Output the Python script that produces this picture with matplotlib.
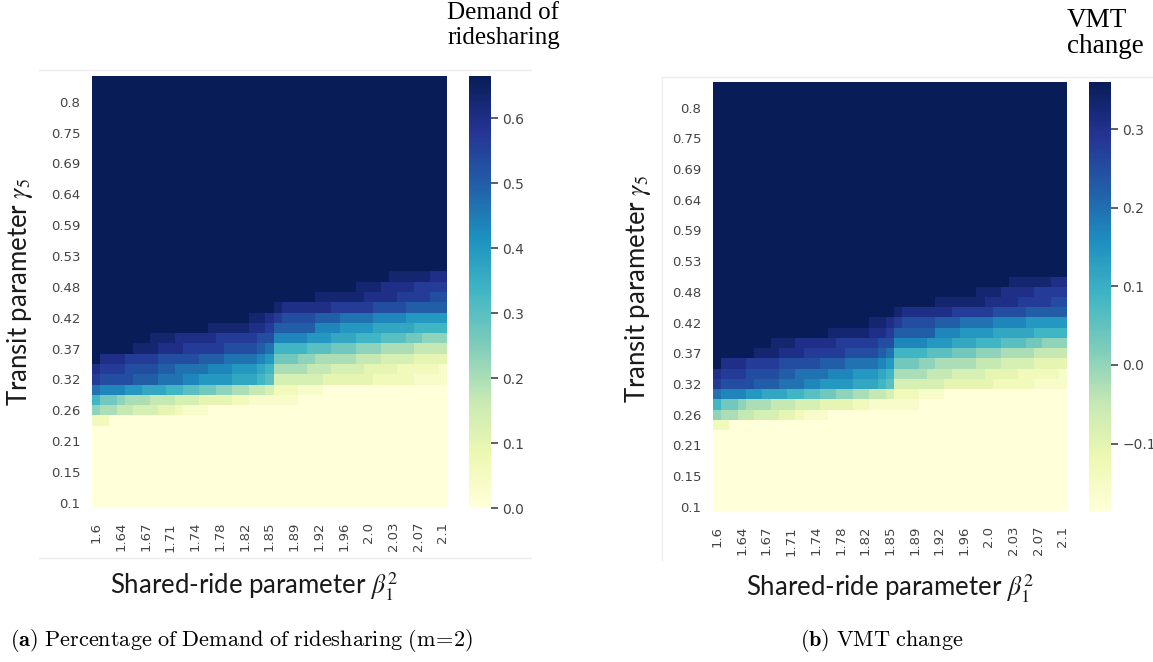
import numpy as np
import matplotlib
matplotlib.use("Agg")
import matplotlib.pyplot as plt
from matplotlib.lines import Line2D

W, H = 1153, 662

# tick labels along the two parameter axes
x_labels = ["1.6", "1.64", "1.67", "1.71", "1.74", "1.78", "1.82", "1.85",
            "1.89", "1.92", "1.96", "2.0", "2.03", "2.07", "2.1"]
y_labels = ["0.1", "0.15", "0.21", "0.26", "0.32", "0.37", "0.42",
            "0.48", "0.53", "0.59", "0.64", "0.69", "0.75", "0.8"]

# cell shades, top row first, 43 columns per row,
# written as runs of (shade, number of cells).
# shade letter = position on the colour bar: a = bottom, u = top, steps of 1/20
shade_runs = (
    [[("u", 43)]] * 19 + [
        [("u", 36), ("t", 5), ("s", 2)],
        [("u", 32), ("t", 3), ("s", 4), ("r", 4)],
        [("u", 27), ("t", 6), ("s", 4), ("r", 4), ("q", 2)],
        [("u", 22), ("t", 1), ("s", 6), ("r", 5), ("q", 4), ("p", 5)],
        [("u", 19), ("t", 2), ("s", 1), ("r", 1), ("q", 4), ("p", 3), ("o", 4),
         ("n", 4), ("m", 5)],
        [("u", 14), ("t", 5), ("s", 2), ("r", 1), ("p", 5), ("n", 3), ("m", 4),
         ("l", 5), ("k", 4)],
        [("u", 7), ("t", 3), ("s", 5), ("r", 5), ("q", 2), ("n", 4), ("m", 3),
         ("l", 3), ("k", 3), ("j", 3), ("i", 2), ("h", 3)],
        [("u", 5), ("t", 3), ("s", 3), ("r", 5), ("q", 4), ("p", 1), ("o", 1),
         ("k", 4), ("j", 3), ("i", 3), ("h", 3), ("g", 4), ("f", 4)],
        [("u", 1), ("s", 3), ("r", 4), ("q", 5), ("p", 3), ("o", 4), ("n", 1),
         ("m", 1), ("i", 3), ("h", 2), ("g", 5), ("f", 3), ("e", 4), ("d", 4)],
        [("s", 1), ("r", 3), ("q", 4), ("p", 2), ("o", 4), ("n", 3), ("m", 3),
         ("l", 1), ("k", 1), ("g", 4), ("f", 3), ("e", 4), ("d", 4), ("c", 5),
         ("b", 1)],
        [("r", 1), ("q", 4), ("p", 3), ("o", 3), ("n", 2), ("m", 4), ("l", 3),
         ("k", 1), ("j", 1), ("e", 6), ("d", 6), ("c", 5), ("b", 4)],
        [("o", 1), ("n", 3), ("m", 2), ("l", 3), ("k", 2), ("j", 2), ("i", 2),
         ("h", 2), ("g", 2), ("f", 2), ("e", 1), ("c", 3), ("b", 3), ("a", 15)],
        [("k", 1), ("i", 2), ("h", 1), ("g", 3), ("f", 3), ("e", 3), ("d", 4),
         ("c", 2), ("b", 6), ("a", 18)],
        [("h", 1), ("g", 2), ("f", 2), ("e", 3), ("d", 2), ("c", 1), ("b", 3),
         ("a", 29)],
        [("c", 2), ("a", 41)],
    ] + [[("a", 43)]] * 8
)

# colour bar ranges and ticks
demand_range = (0.0, 0.665)
demand_ticks = [0.0, 0.1, 0.2, 0.3, 0.4, 0.5, 0.6]
demand_tick_labels = ["0.0", "0.1", "0.2", "0.3", "0.4", "0.5", "0.6"]
vmt_range = (-0.187, 0.360)
vmt_ticks = [-0.1, 0.0, 0.1, 0.2, 0.3]
vmt_tick_labels = ["\u22120.1", "0.0", "0.1", "0.2", "0.3"]


def decode(runs, lo, hi):
    rows = ["".join(c * n for c, n in r) for r in runs]
    grid = np.array([[(ord(c) - 97) / 20 for c in r] for r in rows[::-1]])
    return lo + grid * (hi - lo)


def box(x0, y0, x1, y1):
    return [x0 / W, 1 - y1 / H, (x1 - x0) / W, (y1 - y0) / H]


def draw_panel(fig, heat_box, cbar_box, values, vrange, ticks, tick_labels,
               xlab_pos, ylab_pos):
    ax = fig.add_axes(heat_box)
    cax = fig.add_axes(cbar_box)
    mesh = ax.pcolormesh(values, cmap="YlGnBu", vmin=vrange[0], vmax=vrange[1])
    n_rows, n_cols = values.shape
    ax.set_xlim(0, n_cols)
    ax.set_ylim(0, n_rows)
    ax.set_xticks(np.arange(len(x_labels)) * 3 + 0.5)
    ax.set_xticklabels(x_labels, rotation=90)
    ax.set_yticks(np.arange(len(y_labels)) * 3 + 0.5)
    ax.set_yticklabels(y_labels)
    ax.tick_params(length=0, labelsize=9.5, labelcolor="#444444")
    ax.tick_params(axis="x", pad=10)
    ax.tick_params(axis="y", pad=8.5)
    for s in ax.spines.values():
        s.set_visible(False)
    ax.set_xlabel(r"Shared-ride parameter $\beta_1^2$", family="Lato",
                  fontsize=18.5, color="#1a1a1a", math_fontfamily="stix")
    ax.set_ylabel(r"Transit parameter $\gamma_5$", family="Lato",
                  fontsize=18.5, color="#1a1a1a", math_fontfamily="stix")
    ax.xaxis.set_label_coords(*xlab_pos)
    ax.yaxis.set_label_coords(*ylab_pos)

    cb = fig.colorbar(mesh, cax=cax)
    cb.outline.set_visible(False)
    cb.set_ticks(ticks)
    cb.set_ticklabels(tick_labels)
    cax.tick_params(length=5, width=1.2, color="#444444", labelsize=10,
                    labelcolor="#444444", pad=3)
    return ax


fig = plt.figure(figsize=(W / 100, H / 100), dpi=100)

demand = decode(shade_runs, *demand_range)
vmt = decode(shade_runs, *vmt_range)

draw_panel(fig, box(92, 76, 447, 508), box(469, 76, 491, 508), demand,
           demand_range, demand_ticks, demand_tick_labels,
           (0.456, -0.144), (-0.16, 0.5))
draw_panel(fig, box(713, 82, 1067, 512), box(1089, 82, 1111, 512), vmt,
           vmt_range, vmt_ticks, vmt_tick_labels,
           (0.5, -0.14), (-0.17, 0.52))

# colour bar titles
fig.text(447 / W, 1 - 2 / H, "Demand of\nridesharing", ha="left", va="top",
         family="Liberation Serif", fontsize=18, linespacing=1.15)
fig.text(1067 / W, 1 - 8 / H, "VMT\nchange", ha="left", va="top",
         family="Liberation Serif", fontsize=19.5, linespacing=1.05)

# sub-figure captions
fig.text(10 / W, 1 - 640 / H,
         r"$\mathbf{(a)}\ \mathrm{Percentage\ of\ Demand\ of\ ridesharing\ (m\!=\!2)}$",
         ha="left", va="center", fontsize=16, math_fontfamily="cm")
fig.text(882 / W, 1 - 640 / H, r"$\mathbf{(b)}\ \mathrm{VMT\ change}$",
         ha="center", va="center", fontsize=16, math_fontfamily="cm")

# faint screenshot borders round each panel
edge = "#ededed"
fig.add_artist(Line2D([39 / W, 531 / W], [1 - 70 / H] * 2, color=edge, lw=1))
fig.add_artist(Line2D([39 / W, 531 / W], [1 - 558 / H] * 2, color=edge, lw=1))
fig.add_artist(Line2D([662 / W, 1], [1 - 77 / H] * 2, color=edge, lw=1))
fig.add_artist(Line2D([662 / W] * 2, [1 - 77 / H, 1 - 560 / H], color=edge, lw=1))

fig.savefig("out.png", dpi=100)
